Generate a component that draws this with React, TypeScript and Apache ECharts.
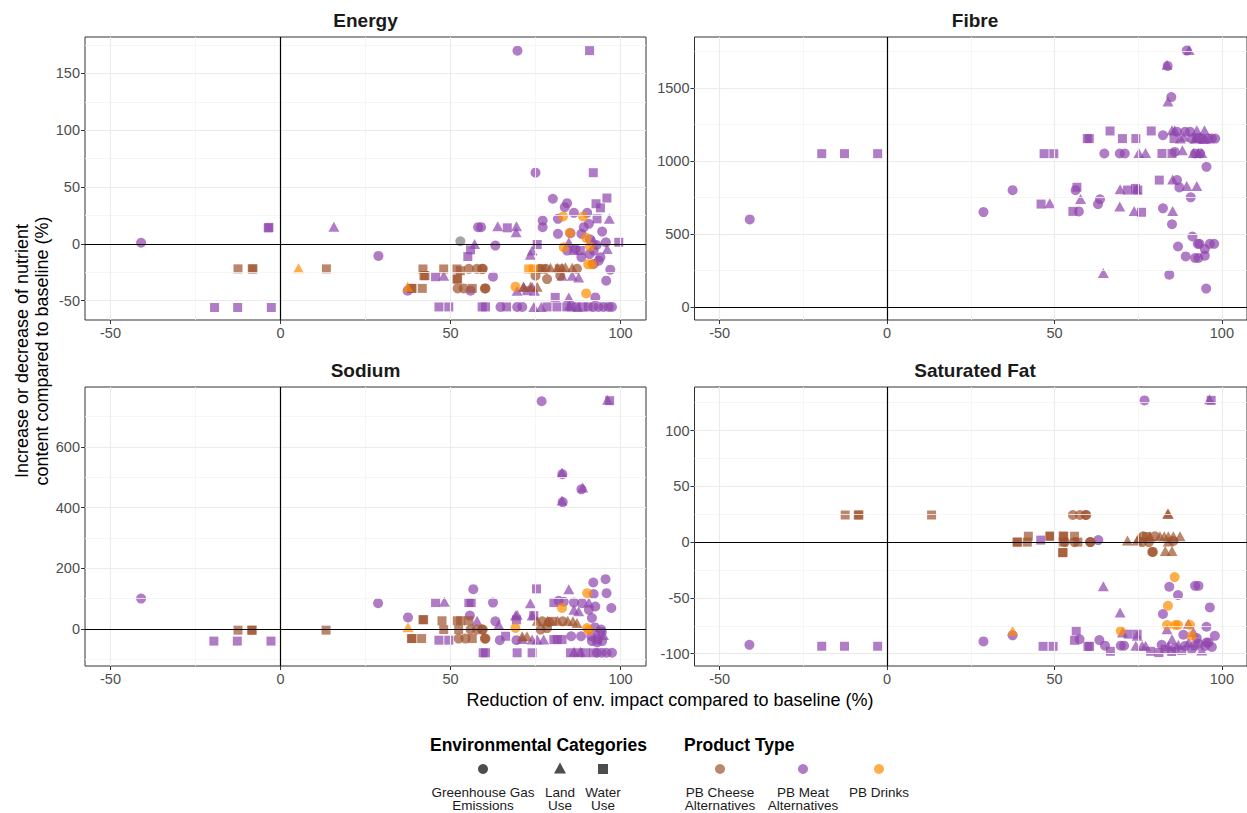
import React, { useEffect, useRef } from 'react';
import * as echarts from 'echarts';

type Pt = [number, number, string, string];

// ---------- axis ticks / gridlines ----------
const xTicks = [-50, 0, 50, 100];
const xMinor = [-25, 25, 75];
const energyTicks = [-50, 0, 50, 100, 150];
const energyMinor = [-25, 25, 75, 125, 175];
const fibreTicks = [0, 500, 1000, 1500];
const fibreMinor = [250, 750, 1250, 1750];
const sodiumTicks = [0, 200, 400, 600];
const sodiumMinor = [-100, 100, 300, 500, 700];
const satFatTicks = [-100, -50, 0, 50, 100];
const satFatMinor = [-75, -25, 25, 75, 125];

const panelTitles = ['Energy', 'Fibre', 'Sodium', 'Saturated Fat'];
const envCategories = [['Greenhouse Gas', 'Emissions'], ['Land', 'Use'], ['Water', 'Use']];
const productTypes = [['PB Cheese', 'Alternatives'], ['PB Meat', 'Alternatives'], ['PB Drinks']];

// [x reduction %, y change %, product (C cheese, M meat, D drinks, N n/a), env (G ghg, L land, W water)]
const energyPoints: Pt[] = [
  [-41, 1, 'M', 'G'], [-3.6, 14, 'M', 'W'], [-3.4, 14.5, 'M', 'W'], [15.7, 15, 'M', 'L'],
  [-12.5, -22, 'C', 'W'], [-8.3, -22, 'C', 'W'], [-8.1, -22, 'C', 'W'], [5.3, -21.5, 'D', 'L'], [13.5, -22, 'C', 'W'],
  [-19.4, -56, 'M', 'W'], [-12.6, -56, 'M', 'W'], [-2.7, -56, 'M', 'W'], [28.8, -10.6, 'M', 'G'],
  [69.7, 170, 'M', 'G'], [90.9, 170, 'M', 'W'], [75, 62.6, 'M', 'G'], [92, 62.6, 'M', 'W'],
  [52.9, 2.3, 'N', 'G'],
  [58.1, 14.7, 'M', 'G'], [59.0, 14.7, 'M', 'G'], [63.9, 15.5, 'M', 'L'], [69.4, 15.5, 'M', 'L'], [66.7, 14.1, 'M', 'W'], [69.3, 10.3, 'M', 'L'],
  [57.1, -0.1, 'M', 'L'], [55.9, -5.3, 'M', 'W'], [55.1, -11.2, 'M', 'W'], [63.2, -1.5, 'M', 'G'],
  [75.5, -0.6, 'M', 'W'], [74, -5.9, 'M', 'L'], [73.5, -9.5, 'M', 'L'],
  [80.1, 39.7, 'M', 'G'], [84.3, 35.8, 'M', 'G'], [83.6, 32.3, 'M', 'G'], [86.3, 27.3, 'M', 'G'], [90.2, 27.3, 'M', 'G'],
  [81.6, 22, 'M', 'G'], [77.1, 20.5, 'M', 'G'], [77.1, 14.7, 'M', 'G'], [81.6, 8.8, 'M', 'G'], [85.3, 9.4, 'M', 'G'],
  [89.2, 14.7, 'M', 'G'], [90.7, 17.6, 'M', 'G'], [94.6, 10.8, 'M', 'G'], [95.7, 1.4, 'M', 'G'], [84.3, -5.9, 'M', 'G'],
  [88.5, -11.8, 'M', 'G'], [94.1, -11.8, 'M', 'G'], [92.1, -5.9, 'M', 'G'], [97, -22.7, 'M', 'G'], [95.8, -32.4, 'M', 'G'],
  [92.6, -47.1, 'M', 'G'], [62.5, -28.9, 'M', 'G'], [55.9, -41.2, 'M', 'G'], [37.4, -41.2, 'M', 'G'],
  [88.5, 8.8, 'M', 'G'], [91, 4, 'M', 'G'], [93, -1, 'M', 'G'], [86.8, -4.5, 'M', 'G'], [90.9, -9, 'M', 'G'], [93.6, -14.8, 'M', 'G'], [92.1, -17.7, 'M', 'G'],
  [92.8, 35.3, 'M', 'W'], [96, 40.3, 'M', 'W'], [94.1, 31.7, 'M', 'W'], [93.1, 22, 'M', 'W'], [99.5, 1.4, 'M', 'W'], [86.3, -5.9, 'M', 'W'], [88.2, -5.9, 'M', 'W'],
  [96.7, 22, 'M', 'L'], [92.1, 2.9, 'M', 'L'], [96.1, -4.5, 'M', 'L'], [84.8, 1.4, 'M', 'L'], [85.8, -28, 'M', 'L'], [87.7, -29.5, 'M', 'L'], [82.8, -28, 'M', 'L'], [84.8, -47.1, 'M', 'L'],
  [83.1, 24.1, 'D', 'G'], [89, 24.1, 'D', 'G'], [85.1, 9.7, 'D', 'G'], [89.9, 5.3, 'D', 'G'], [83.3, -3, 'D', 'G'], [91, -2.4, 'D', 'G'],
  [90.5, -18, 'D', 'G'], [91.7, -18, 'D', 'G'], [89.9, -43.6, 'D', 'G'], [69.1, -37.7, 'D', 'G'],
  [73, -22.1, 'D', 'W'], [74.3, -22.1, 'D', 'W'], [37.4, -37.7, 'D', 'L'],
  [76.3, -22, 'C', 'G'], [78, -22, 'C', 'G'], [87.2, -22, 'C', 'G'],
  [79.4, -21, 'C', 'L'], [81.4, -21, 'C', 'L'], [82.8, -21, 'C', 'L'], [83.8, -20.5, 'C', 'L'], [85.8, -21, 'C', 'L'],
  [77, -22, 'C', 'W'], [82, -22, 'C', 'W'], [75, -28, 'C', 'G'], [78.4, -31, 'C', 'G'], [82.3, -28, 'C', 'G'],
  [41.9, -22.1, 'C', 'W'], [42.2, -28, 'C', 'W'], [42.5, -28, 'C', 'W'], [48, -22.1, 'C', 'W'], [51.9, -22.1, 'C', 'W'], [52.9, -23.6, 'C', 'W'],
  [55.4, -22, 'C', 'G'], [57.8, -22, 'C', 'G'], [59.3, -22, 'C', 'G'], [59.5, -22, 'C', 'G'],
  [51.9, -31, 'C', 'W'], [52.1, -31, 'C', 'W'], [38.5, -39.2, 'C', 'W'], [38.7, -39.2, 'C', 'W'], [41.7, -39.2, 'C', 'W'],
  [52.1, -39.2, 'C', 'G'], [53.9, -39.2, 'C', 'G'], [56.4, -39.2, 'C', 'W'], [60.1, -39.2, 'C', 'G'], [60.3, -39.2, 'C', 'G'],
  [71.5, -37.7, 'C', 'L'], [73.5, -37.7, 'C', 'L'], [75.5, -37.7, 'C', 'L'],
  [48, -28, 'M', 'L'], [45.6, -28.9, 'M', 'W'], [69.6, -41.2, 'M', 'L'], [71.5, -37.7, 'M', 'L'], [74, -37.7, 'M', 'L'], [74.7, -41.2, 'M', 'L'],
  [72.5, -41.2, 'M', 'W'], [80.8, -47.1, 'M', 'W'],
  [46.6, -55.5, 'M', 'W'], [49.5, -55.5, 'M', 'W'], [59.3, -55.5, 'M', 'W'], [60.3, -55.5, 'M', 'W'], [66.5, -55.5, 'M', 'W'], [78.4, -55.5, 'M', 'W'],
  [81.3, -55.5, 'M', 'W'], [84.2, -55.5, 'M', 'W'], [85.5, -55.5, 'M', 'W'], [87, -55.5, 'M', 'W'], [89, -55.5, 'M', 'W'], [90.5, -55.5, 'M', 'W'],
  [64.7, -55.5, 'M', 'G'], [69.6, -55.5, 'M', 'G'], [71.1, -55.5, 'M', 'G'], [92, -55.5, 'M', 'G'], [93.5, -55.5, 'M', 'G'], [95, -55.5, 'M', 'G'],
  [96.5, -55.5, 'M', 'G'], [97.5, -55.5, 'M', 'G'],
  [74.5, -55.5, 'M', 'L'], [76.7, -55.5, 'M', 'L'], [85, -54, 'M', 'L'], [87.5, -55.5, 'M', 'L'],
];

const fibrePoints: Pt[] = [
  [-41, 600, 'M', 'G'], [-19.5, 1050, 'M', 'W'], [-12.7, 1050, 'M', 'W'], [-2.8, 1050, 'M', 'W'],
  [28.8, 650, 'M', 'G'], [37.5, 800, 'M', 'G'], [46.9, 1050, 'M', 'W'], [49.8, 1050, 'M', 'W'],
  [46, 705, 'M', 'W'], [48.6, 710, 'M', 'L'], [56.7, 820, 'M', 'W'], [56.3, 800, 'M', 'G'], [57.8, 740, 'M', 'L'],
  [55.5, 655, 'M', 'W'], [57.3, 655, 'M', 'G'], [59.8, 1153, 'M', 'W'], [60.4, 1153, 'M', 'W'], [66.6, 1205, 'M', 'W'],
  [64.9, 1051, 'M', 'G'], [69.5, 1051, 'M', 'G'], [71, 1051, 'M', 'G'], [75.2, 1055, 'M', 'L'], [77.2, 1055, 'M', 'L'],
  [70.3, 1153, 'M', 'W'], [74.3, 1153, 'M', 'W'], [78.9, 1205, 'M', 'W'], [63.6, 738, 'M', 'G'], [63, 704, 'M', 'G'],
  [69.6, 806, 'M', 'L'], [71.8, 801, 'M', 'W'], [74.2, 812, 'M', 'W'], [74.9, 801, 'M', 'W'], [74.5, 805, 'M', 'L'],
  [69.5, 688, 'M', 'L'], [73.8, 658, 'M', 'L'], [76, 649, 'M', 'W'], [64.6, 234, 'M', 'L'], [81.3, 869, 'M', 'W'],
  [85.3, 874, 'M', 'L'], [86.6, 869, 'M', 'G'], [87.3, 819, 'M', 'G'], [89.5, 829, 'M', 'L'], [92.5, 829, 'M', 'L'], [90.7, 751, 'M', 'G'],
  [82.4, 676, 'M', 'G'], [85.3, 658, 'M', 'L'], [85.1, 567, 'M', 'G'],
  [91.2, 483, 'M', 'G'], [86.9, 415, 'M', 'G'], [92.8, 433, 'M', 'G'], [93.3, 433, 'M', 'G'], [94.9, 397, 'M', 'G'], [96.4, 433, 'M', 'G'],
  [97.7, 433, 'M', 'G'], [89.2, 347, 'M', 'G'], [92, 336, 'M', 'G'], [93, 336, 'M', 'G'], [94.9, 352, 'M', 'G'],
  [84.3, 222, 'M', 'G'], [95.3, 127, 'M', 'G'], [95.4, 960, 'M', 'G'],
  [89.5, 1755, 'M', 'G'], [90.2, 1759, 'M', 'L'], [83.6, 1659, 'M', 'L'], [83.8, 1650, 'M', 'G'], [84.9, 1437, 'M', 'G'], [83.9, 1407, 'M', 'L'],
  [82.4, 1176, 'M', 'G'], [85.1, 1210, 'M', 'L'], [85.9, 1210, 'M', 'L'], [86.6, 1200, 'M', 'G'], [89, 1200, 'M', 'G'], [90.5, 1200, 'M', 'G'],
  [92.5, 1210, 'M', 'L'], [94.8, 1210, 'M', 'L'], [85.7, 1153, 'M', 'W'], [87.6, 1153, 'M', 'L'], [88.6, 1165, 'M', 'L'],
  [91, 1153, 'M', 'G'], [92, 1153, 'M', 'L'], [93, 1153, 'M', 'W'], [94, 1153, 'M', 'G'], [95, 1153, 'M', 'L'], [96, 1153, 'M', 'G'],
  [97, 1153, 'M', 'G'], [98, 1153, 'M', 'G'], [92.5, 1160, 'M', 'W'], [94.5, 1150, 'M', 'L'],
  [82.1, 1051, 'M', 'W'], [85.1, 1051, 'M', 'W'], [85.9, 1062, 'M', 'G'], [88.2, 1074, 'M', 'L'], [91.5, 1055, 'M', 'L'],
  [93, 1055, 'M', 'L'], [94, 1055, 'M', 'L'], [92, 1051, 'M', 'G'], [93.5, 1051, 'M', 'G'],
];

const sodiumPoints: Pt[] = [
  [-41, 100, 'M', 'G'], [-12.5, -4, 'C', 'W'], [-8.5, -4, 'C', 'W'], [-8.3, -4, 'C', 'W'], [13.4, -4, 'C', 'W'],
  [-19.6, -40, 'M', 'W'], [-12.7, -40, 'M', 'W'], [-2.8, -40, 'M', 'W'], [28.7, 85, 'M', 'G'],
  [76.8, 750, 'M', 'G'], [96.2, 755, 'M', 'L'], [96.8, 752, 'M', 'W'],
  [82.8, 515, 'M', 'L'], [82.9, 510, 'M', 'G'], [82.8, 423, 'M', 'L'], [83, 418, 'M', 'G'], [88.9, 466, 'M', 'L'], [88.5, 460, 'M', 'G'],
  [56.7, 131, 'M', 'G'], [75.3, 132, 'M', 'W'],
  [37.5, 5.5, 'D', 'L'], [37.5, 38, 'M', 'G'], [41.9, 30.5, 'C', 'W'], [42.1, 30.5, 'C', 'W'],
  [38.5, -31.6, 'C', 'W'], [38.7, -31.6, 'C', 'W'], [41.5, -31.6, 'C', 'W'],
  [45.6, 87, 'M', 'W'], [48.2, 90, 'M', 'L'], [46.6, -37, 'M', 'W'], [49.5, -37, 'M', 'W'],
  [47.5, 27, 'C', 'W'], [48, -2, 'C', 'W'], [52, 27, 'C', 'W'], [53, 27, 'C', 'W'], [52.4, -2, 'C', 'W'], [55.4, 27, 'C', 'W'],
  [52.4, -31.6, 'C', 'G'], [54.4, -31.6, 'C', 'G'], [56.4, -31.6, 'C', 'W'], [60.1, -31.6, 'C', 'G'], [60.3, -31.6, 'C', 'G'],
  [55.9, -2, 'C', 'G'], [57.8, -2, 'C', 'G'], [59.3, -2, 'C', 'G'], [59.5, -2, 'C', 'G'],
  [55.4, 87, 'M', 'W'], [56.1, 87, 'M', 'W'], [55.7, 44, 'M', 'G'], [57.8, 27, 'M', 'L'],
  [62.5, 87, 'M', 'G'], [63.2, 25, 'M', 'G'], [64.2, 14, 'M', 'L'], [64.5, -37, 'M', 'G'], [66.2, -24, 'M', 'W'],
  [59.6, -78.5, 'M', 'W'], [60.3, -78.5, 'M', 'W'], [69.1, 44, 'M', 'L'], [69.6, 47, 'M', 'L'], [69.4, 30, 'M', 'W'],
  [69.1, 3.3, 'D', 'G'], [69.4, -37, 'M', 'G'], [71.1, -33, 'M', 'L'], [71.1, -24, 'C', 'L'], [72.5, -24, 'C', 'L'],
  [69.6, -78.5, 'M', 'W'], [74, -78.5, 'M', 'W'], [73.5, 85, 'M', 'L'], [74, 44, 'M', 'L'], [74.5, 44, 'M', 'W'],
  [75.5, 27, 'C', 'L'], [77, 25, 'C', 'G'], [78.5, 27, 'C', 'L'], [80, 25, 'C', 'W'], [81.5, 27, 'C', 'L'], [83, 25, 'C', 'G'],
  [84.5, 27, 'C', 'L'], [86, 25, 'C', 'L'], [87.2, 20, 'C', 'L'], [79, 22, 'C', 'G'],
  [76.5, -2, 'C', 'G'], [78.4, 3, 'C', 'G'], [74, -35, 'M', 'L'], [75.5, -35, 'M', 'L'], [77.4, -35, 'M', 'L'],
  [80.4, 87, 'M', 'W'], [81.8, 93, 'M', 'G'], [83.3, 90, 'M', 'G'], [84.8, 131, 'M', 'L'], [86.3, 87, 'M', 'G'], [88.7, 85, 'M', 'G'], [90.7, 87, 'M', 'L'],
  [90.2, 118, 'D', 'G'], [82.8, 69, 'D', 'G'], [86.3, 63, 'M', 'L'], [87.7, 58, 'M', 'L'],
  [92, 153, 'M', 'G'], [95.6, 164, 'M', 'G'], [92.1, 115, 'M', 'G'], [95.9, 118, 'M', 'G'], [97.3, 69, 'M', 'G'], [92.6, 74, 'M', 'G'],
  [90.7, 63, 'M', 'G'], [91.6, 36, 'M', 'G'], [90.2, 3.3, 'D', 'G'], [90.7, -4, 'D', 'G'],
  [85.5, -24, 'M', 'G'], [88.4, -24, 'M', 'G'], [91.4, -24, 'M', 'G'], [94.3, -2, 'M', 'G'], [93.3, -35, 'M', 'G'],
  [80.4, -35, 'M', 'W'], [81.4, -35, 'M', 'W'], [82.8, -35, 'M', 'W'],
  [85.3, -78.5, 'M', 'W'], [87.7, -78.5, 'M', 'W'], [89.7, -78.5, 'M', 'W'], [92.1, -78.5, 'M', 'W'], [86.3, -75, 'M', 'L'], [88.2, -75, 'M', 'L'],
  [93.1, -78.5, 'M', 'G'], [94.5, -78.5, 'M', 'G'], [95.9, -78.5, 'M', 'G'], [97.5, -78.5, 'M', 'G'],
  [91.6, -40, 'M', 'G'], [93.1, -44, 'M', 'G'], [94.6, -40, 'M', 'G'],
  [92.5, 5, 'M', 'G'], [94.5, -10, 'M', 'G'], [93, -15, 'M', 'L'], [95, -20, 'M', 'L'],
];

const satFatPoints: Pt[] = [
  [-41.1, -92, 'M', 'G'], [-19.5, -93.3, 'M', 'W'], [-12.7, -93.3, 'M', 'W'], [-2.8, -93.3, 'M', 'W'],
  [-12.5, 24.3, 'C', 'W'], [-8.6, 24.3, 'C', 'W'], [-8.4, 24.3, 'C', 'W'], [13.3, 24.3, 'C', 'W'],
  [28.8, -89, 'M', 'G'], [37.5, -79.5, 'D', 'L'], [37.5, -83.5, 'M', 'G'],
  [76.9, 127, 'M', 'G'], [96.3, 128, 'M', 'L'], [96.8, 127, 'M', 'W'],
  [83.8, 25.5, 'C', 'L'], [84, 25.5, 'C', 'L'],
  [55.5, 24.3, 'C', 'G'], [57.6, 24.3, 'C', 'G'], [59.3, 24.3, 'C', 'G'], [59.5, 24.3, 'C', 'G'],
  [38.8, 0, 'C', 'W'], [39, 0, 'C', 'W'], [41.9, 0, 'C', 'W'], [42.2, 5.3, 'C', 'W'], [45.9, 1.8, 'M', 'W'],
  [48.6, 5.3, 'C', 'W'], [48.8, 5.3, 'C', 'W'], [52.6, 5.3, 'C', 'W'], [52.8, 5.3, 'C', 'W'], [56, 5.3, 'C', 'W'],
  [52.6, 0, 'C', 'W'], [57, 0, 'C', 'W'], [52.4, -9.4, 'C', 'W'], [52.6, -9.4, 'C', 'W'],
  [53.1, 0, 'C', 'G'], [56, 0, 'C', 'G'], [60.6, 0, 'C', 'G'], [60.8, 0, 'C', 'G'], [63.1, 1.8, 'M', 'G'],
  [71.8, 1.5, 'C', 'L'], [74.7, 1.5, 'C', 'L'],
  [75.2, 4, 'C', 'L'], [76.5, 5.3, 'C', 'G'], [77.5, 5, 'C', 'W'], [78.5, 5.3, 'C', 'L'], [80, 5.3, 'C', 'G'], [81.5, 5.3, 'C', 'L'],
  [82.8, 5.3, 'C', 'L'], [84, 5.3, 'C', 'L'], [85.5, 5.3, 'C', 'L'], [87.5, 5.3, 'C', 'L'], [84, 0.5, 'C', 'L'], [85.5, 1, 'C', 'G'],
  [76.2, 0, 'C', 'G'], [78.2, 0, 'C', 'G'], [79.2, -8.8, 'C', 'G'], [79.4, -8.8, 'C', 'G'], [83.1, -7.9, 'C', 'L'], [85.1, -7.9, 'C', 'L'],
  [85.9, -31.3, 'D', 'G'], [64.6, -39.5, 'M', 'L'],
  [84.3, -40, 'M', 'G'], [86.9, -47.4, 'M', 'G'], [92, -39.2, 'M', 'G'], [93, -39.2, 'M', 'G'],
  [83.9, -57, 'D', 'G'], [82.4, -64.4, 'M', 'G'], [96.4, -58.5, 'M', 'G'], [69.6, -63, 'M', 'L'],
  [83.6, -74.3, 'D', 'G'], [86.1, -74.3, 'D', 'G'], [86.9, -74.3, 'D', 'G'], [90, -73.2, 'M', 'L'], [90.5, -74.3, 'D', 'G'],
  [95.4, -75.8, 'M', 'G'], [69.8, -79.6, 'D', 'G'], [70.3, -81, 'M', 'L'],
  [56.5, -79.6, 'M', 'W'], [56, -88, 'M', 'W'], [57.5, -87, 'M', 'G'],
  [46.6, -93.4, 'M', 'W'], [49.6, -93.4, 'M', 'W'], [60, -93.4, 'M', 'W'], [60.5, -93.4, 'M', 'W'],
  [63.4, -87.8, 'M', 'G'], [65.1, -92.8, 'M', 'G'], [66.7, -97.8, 'M', 'W'],
  [72, -82.5, 'M', 'W'], [74.7, -82.5, 'M', 'W'], [74.7, -84, 'M', 'L'],
  [69.8, -92.8, 'M', 'G'], [70.8, -92.8, 'M', 'G'], [74.3, -92.8, 'M', 'L'], [76.2, -92.8, 'M', 'L'], [77.2, -92.8, 'M', 'L'],
  [78.7, -97.8, 'M', 'W'], [81.2, -99, 'M', 'W'], [83.6, -78, 'M', 'L'], [85.1, -87, 'M', 'L'],
  [82, -92, 'M', 'G'], [83, -96, 'M', 'W'], [84, -93, 'M', 'L'], [85, -98, 'M', 'W'], [86, -95, 'M', 'G'], [87, -92, 'M', 'L'],
  [88, -97, 'M', 'W'], [89, -93, 'M', 'G'], [90, -90, 'M', 'L'], [91, -96, 'M', 'G'], [92, -93, 'M', 'W'], [93, -91, 'M', 'G'],
  [94, -97, 'M', 'L'], [95, -93, 'M', 'G'], [96, -90, 'M', 'G'], [97, -94, 'M', 'G'], [88.5, -83, 'M', 'G'], [91.5, -80.5, 'M', 'L'],
  [91, -84, 'D', 'G'], [92.5, -86, 'M', 'G'], [97.9, -84, 'M', 'G'], [95.4, -90, 'M', 'G'],
];

const FONT = "'Liberation Sans', Arial, Helvetica, sans-serif";
const COLORS: Record<string, string> = { C: '#A0522D', M: '#8E44AD', D: '#FF8C00', N: '#7F7F7F' };
const SHAPES: Record<string, string> = { G: 'circle', L: 'triangle', W: 'rect' };
const SIZES: Record<string, any> = { G: 10, L: [11, 10], W: 9 };
const ALPHA = 0.7;

export default function App() {
  const ref = useRef<HTMLDivElement>(null);
  useEffect(() => {
    const chart = echarts.init(ref.current!, undefined, { renderer: 'svg' });

    const panels = [
      { pts: energyPoints, ticks: energyTicks, minor: energyMinor, min: -67, max: 182, left: 85, top: 37, height: 283 },
      { pts: fibrePoints, ticks: fibreTicks, minor: fibreMinor, min: -88, max: 1848, left: 694.5, top: 37, height: 283 },
      { pts: sodiumPoints, ticks: sodiumTicks, minor: sodiumMinor, min: -122, max: 797, left: 85, top: 387, height: 279 },
      { pts: satFatPoints, ticks: satFatTicks, minor: satFatMinor, min: -111, max: 139, left: 694.5, top: 387, height: 279 },
    ];
    const plotW = 561;
    const plain = (v: number) => String(v);

    const grid: any[] = [];
    const xAxis: any[] = [];
    const yAxis: any[] = [];
    const series: any[] = [];
    const graphic: any[] = [];

    panels.forEach((p, i) => {
      grid.push({ left: p.left, top: p.top, width: plotW, height: p.height, show: true, borderColor: '#333333', borderWidth: 1, backgroundColor: 'transparent', containLabel: false });
      xAxis.push({
        type: 'value', gridIndex: i, min: -57.5, max: 107.5,
        axisLine: { show: false, onZero: false },
        axisTick: { show: true, customValues: xTicks, length: 4, lineStyle: { color: '#333333', width: 1 } },
        axisLabel: { customValues: xTicks, formatter: plain, color: '#4D4D4D', fontSize: 14.5, fontFamily: FONT, margin: 5 },
        splitLine: { show: false },
      });
      yAxis.push({
        type: 'value', gridIndex: i, min: p.min, max: p.max,
        axisLine: { show: false, onZero: false },
        axisTick: { show: true, customValues: p.ticks, length: 4, lineStyle: { color: '#333333', width: 1 } },
        axisLabel: { customValues: p.ticks, formatter: plain, color: '#4D4D4D', fontSize: 14.5, fontFamily: FONT, margin: 5 },
        splitLine: { show: false },
      });
      // gridlines
      const gl: any[] = [];
      xMinor.forEach(v => gl.push({ xAxis: v, lineStyle: { color: '#F4F4F4', width: 0.8, type: 'solid' } }));
      p.minor.forEach(v => gl.push({ yAxis: v, lineStyle: { color: '#F4F4F4', width: 0.8, type: 'solid' } }));
      xTicks.forEach(v => gl.push({ xAxis: v, lineStyle: { color: '#EBEBEB', width: 1.1, type: 'solid' } }));
      p.ticks.forEach(v => gl.push({ yAxis: v, lineStyle: { color: '#EBEBEB', width: 1.1, type: 'solid' } }));
      series.push({
        type: 'scatter', xAxisIndex: i, yAxisIndex: i, data: [], silent: true, z: 1,
        markLine: { silent: true, symbol: ['none', 'none'], label: { show: false }, emphasis: { disabled: true }, data: gl },
      });
      ['M', 'C', 'D', 'N'].forEach(prod => {
        ['G', 'L', 'W'].forEach(env => {
          const d = p.pts.filter(q => q[2] === prod && q[3] === env).map(q => [q[0], q[1]]);
          if (!d.length) return;
          series.push({
            type: 'scatter', xAxisIndex: i, yAxisIndex: i, data: d, z: 3, silent: true,
            symbol: SHAPES[env], symbolSize: SIZES[env],
            itemStyle: { color: COLORS[prod], opacity: ALPHA },
            emphasis: { disabled: true },
          });
        });
      });
      series.push({
        type: 'scatter', xAxisIndex: i, yAxisIndex: i, data: [], silent: true, z: 5,
        markLine: {
          silent: true, symbol: ['none', 'none'], label: { show: false }, emphasis: { disabled: true },
          lineStyle: { color: '#000000', width: 1.2, type: 'solid' },
          data: [{ xAxis: 0 }, { yAxis: 0 }],
        },
      });
      graphic.push({
        type: 'text', x: p.left + plotW / 2, y: p.top - 17,
        style: { text: panelTitles[i], font: `bold 19px ${FONT}`, fill: '#1A1A1A', textAlign: 'center', textVerticalAlign: 'middle' },
      });
    });

    // axis titles
    graphic.push({
      type: 'text', x: 670, y: 700,
      style: { text: 'Reduction of env. impact compared to baseline (%)', font: `18px ${FONT}`, fill: '#000000', textAlign: 'center', textVerticalAlign: 'middle' },
    });
    graphic.push({
      type: 'text', x: 32, y: 351, rotation: Math.PI / 2,
      style: { text: 'Increase or decrease of nutrient\ncontent compared to baseline (%)', font: `18px ${FONT}`, lineHeight: 20, fill: '#000000', textAlign: 'center', textVerticalAlign: 'middle' },
    });

    // legend
    graphic.push({ type: 'text', x: 430, y: 745, style: { text: 'Environmental Categories', font: `bold 17.5px ${FONT}`, fill: '#000000', textAlign: 'left', textVerticalAlign: 'middle' } });
    graphic.push({ type: 'text', x: 684, y: 745, style: { text: 'Product Type', font: `bold 17.5px ${FONT}`, fill: '#000000', textAlign: 'left', textVerticalAlign: 'middle' } });
    const envX = [483, 560, 603];
    graphic.push({ type: 'circle', shape: { cx: envX[0], cy: 769, r: 5 }, style: { fill: '#4D4D4D' } });
    graphic.push({ type: 'polygon', shape: { points: [[envX[1], 762.5], [envX[1] + 6, 773.5], [envX[1] - 6, 773.5]] }, style: { fill: '#4D4D4D' } });
    graphic.push({ type: 'rect', shape: { x: envX[2] - 5, y: 764, width: 10, height: 10 }, style: { fill: '#4D4D4D' } });
    const lineY = [792, 805.5];
    const legendText = (x: number, lines: string[]) => {
      lines.forEach((t, j) => {
        graphic.push({ type: 'text', x, y: lineY[j], style: { text: t, font: `13.5px ${FONT}`, fill: '#1A1A1A', textAlign: 'center', textVerticalAlign: 'middle' } });
      });
    };
    envCategories.forEach((lines, k) => legendText(envX[k], lines));
    const prodX = [720, 803, 879];
    ['C', 'M', 'D'].forEach((c, k) => {
      graphic.push({ type: 'circle', shape: { cx: prodX[k], cy: 769, r: 5 }, style: { fill: COLORS[c], opacity: ALPHA } });
      legendText(prodX[k], productTypes[k]);
    });

    chart.setOption({
      animation: false,
      backgroundColor: '#FFFFFF',
      grid, xAxis, yAxis, series, graphic,
    });
    return () => chart.dispose();
  }, []);
  return <div ref={ref} style={{ position: 'fixed', left: 0, top: 0, width: 1247, height: 813, background: '#fff' }} />;
}
